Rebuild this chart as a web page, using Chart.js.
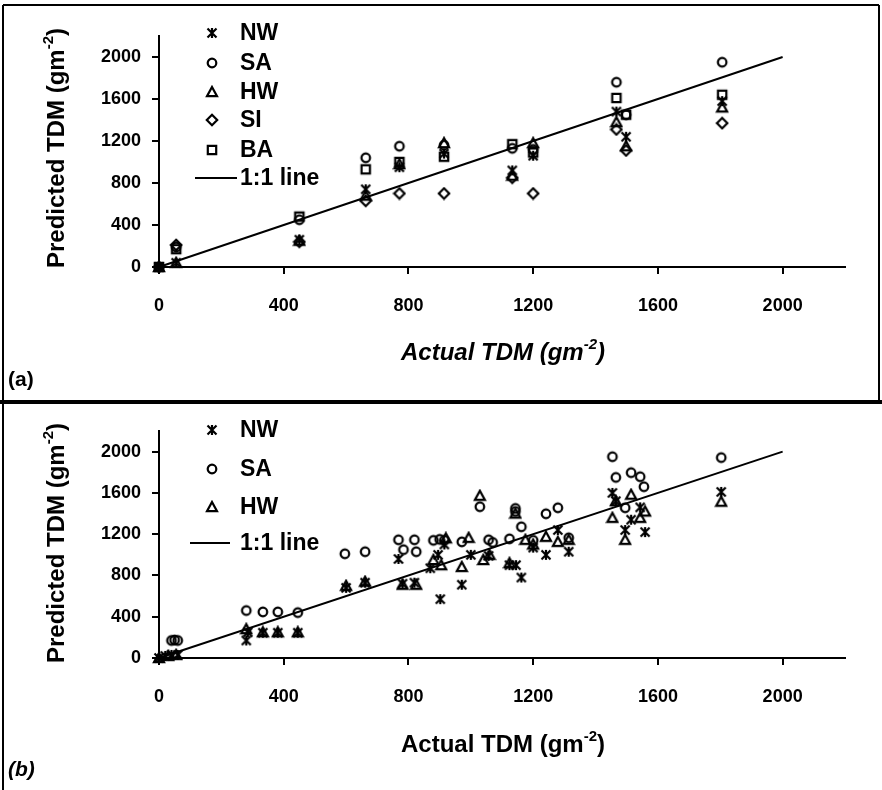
<!DOCTYPE html>
<html>
<head>
<meta charset="utf-8">
<script src="https://cdn.jsdelivr.net/npm/chart.js@4.4.1/dist/chart.umd.min.js"></script>
<style>
  html, body { margin: 0; padding: 0; background: #fff; }
  #wrap { position: relative; width: 882px; height: 790px; }
  .panel { position: absolute; left: 0; width: 882px; }
  #panelA { top: 0; height: 402px; }
  #panelB { top: 402px; height: 388px; }
</style>
</head>
<body>
<div id="wrap">
  <div class="panel" id="panelA"><canvas id="chartA" width="882" height="402"></canvas></div>
  <div class="panel" id="panelB"><canvas id="chartB" width="882" height="388"></canvas></div>
</div>
<script>
// ticks shared by both panels
var tickValues = [0, 400, 800, 1200, 1600, 2000];
var oneToOne = [0, 2000];

// panel (a): actual TDM and predictions of each model
var actualA = [0, 55, 450, 663, 771, 914, 1133, 1200, 1467, 1498, 1806];
var nwA = [0, 40, 260, 740, 950, 1080, 920, 1060, 1480, 1240, 1580];
var saA = [0, 190, 450, 1040, 1150, 1160, 1130, 1120, 1760, 1450, 1950];
var hwA = [0, 40, 250, 680, 980, 1180, 870, 1180, 1380, 1150, 1520];
var siA = [0, 210, 240, 630, 700, 700, 850, 700, 1310, 1110, 1370];
var baA = [0, 170, 480, 930, 1000, 1050, 1170, 1090, 1610, 1450, 1640];

// panel (b)
var nwBx = [0, 20, 40, 60, 280, 285, 333, 381, 445, 600, 661, 768, 781, 819, 870, 895, 902, 915, 971, 1000, 1057, 1124, 1145, 1162, 1200, 1241, 1279, 1314, 1454, 1465, 1495, 1514, 1543, 1559, 1803];
var nwBy = [0, 20, 30, 30, 170, 250, 245, 245, 245, 680, 730, 960, 720, 730, 870, 1000, 570, 1100, 710, 1000, 990, 900, 900, 780, 1070, 1000, 1240, 1030, 1600, 1520, 1240, 1340, 1460, 1220, 1610];
var saBx = [40, 50, 60, 280, 333, 381, 445, 596, 661, 768, 784, 819, 825, 880, 900, 915, 971, 1029, 1057, 1070, 1124, 1143, 1143, 1162, 1200, 1241, 1279, 1314, 1454, 1465, 1495, 1514, 1543, 1555, 1803];
var saBy = [170, 175, 170, 460, 447, 447, 440, 1010, 1030, 1146, 1050, 1146, 1030, 1140, 1150, 1140, 1126, 1466, 1146, 1120, 1155, 1450, 1420, 1272, 1140, 1398, 1456, 1165, 1951, 1750, 1456, 1796, 1757, 1660, 1942];
var hwBx = [0, 30, 55, 280, 333, 381, 445, 600, 661, 781, 825, 880, 905, 920, 971, 993, 1029, 1040, 1060, 1124, 1143, 1175, 1200, 1241, 1279, 1314, 1454, 1465, 1495, 1514, 1543, 1559, 1803];
var hwBy = [0, 20, 30, 280, 250, 250, 250, 700, 740, 710, 710, 950, 900, 1160, 883, 1165, 1573, 950, 1000, 920, 1400, 1146, 1100, 1175, 1126, 1146, 1359, 1520, 1146, 1583, 1359, 1420, 1515];

var FONT = 'Liberation Sans, Arial, sans-serif';

// marker images (open symbols like the excel ones)
function makeMarker(kind) {
    var c = document.createElement('canvas');
    c.width = 14; c.height = 14;
    var g = c.getContext('2d');
    g.strokeStyle = '#000';
    g.lineWidth = 2.2;
    g.beginPath();
    if (kind == 'star') {
        g.moveTo(2.5, 2.5); g.lineTo(11.5, 11.5);
        g.moveTo(11.5, 2.5); g.lineTo(2.5, 11.5);
        g.moveTo(7, 2); g.lineTo(7, 12);
    } else if (kind == 'circle') {
        g.arc(7, 7, 4.3, 0, Math.PI * 2);
    } else if (kind == 'triangle') {
        g.moveTo(7, 2); g.lineTo(12, 11.2); g.lineTo(2, 11.2); g.closePath();
    } else if (kind == 'diamond') {
        g.moveTo(7, 1.8); g.lineTo(12.2, 7); g.lineTo(7, 12.2); g.lineTo(1.8, 7); g.closePath();
    } else if (kind == 'square') {
        g.rect(2.8, 2.8, 8.4, 8.4);
    }
    g.stroke();
    return c;
}
var mk = {
    NW: makeMarker('star'),
    SA: makeMarker('circle'),
    HW: makeMarker('triangle'),
    SI: makeMarker('diamond'),
    BA: makeMarker('square')
};

function pairs(xs, ys) {
    return xs.map(function (x, i) { return {x: x, y: ys[i]}; });
}

function scatterSet(label, pts) {
    return {
        type: 'scatter', label: label, data: pts,
        pointStyle: mk[label], pointRadius: 5, clip: false
    };
}

function lineSet() {
    return {
        type: 'line', label: '1:1 line', data: pairs(oneToOne, oneToOne),
        borderColor: '#000', borderWidth: 2, pointRadius: 0, fill: false, clip: false
    };
}

function drawSupText(ctx, x, y, main, sup, tail, size, italic, rot) {
    var st = (italic ? 'italic ' : '') + 'bold ';
    var f1 = st + size + 'px ' + FONT, f2 = st + Math.round(size * 0.62) + 'px ' + FONT;
    ctx.save();
    ctx.translate(x, y);
    if (rot) ctx.rotate(-Math.PI / 2);
    ctx.fillStyle = '#000';
    ctx.textBaseline = 'middle';
    ctx.textAlign = 'left';
    ctx.font = f1; var w1 = ctx.measureText(main).width, w3 = ctx.measureText(tail).width;
    ctx.font = f2; var w2 = ctx.measureText(sup).width;
    var sx = -(w1 + w2 + w3) / 2;
    ctx.font = f1; ctx.fillText(main, sx, 0);
    ctx.font = f2; ctx.fillText(sup, sx + w1, -size * 0.36);
    ctx.font = f1; ctx.fillText(tail, sx + w1 + w2, 0);
    ctx.restore();
}

// legend, titles, panel letter and frame
function decoPlugin(cfg) {
    return {
        id: 'deco',
        afterDraw: function (chart) {
            var ctx = chart.ctx;
            ctx.save();
            ctx.strokeStyle = '#000';
            ctx.lineWidth = 2;
            ctx.beginPath();
            cfg.frame.forEach(function (s) { ctx.moveTo(s[0], s[1]); ctx.lineTo(s[2], s[3]); });
            ctx.stroke();

            // legend
            ctx.font = 'bold 23px ' + FONT;
            ctx.textBaseline = 'middle';
            ctx.fillStyle = '#000';
            cfg.legend.forEach(function (row, i) {
                var y = cfg.legendY[i];
                if (row == '1:1 line') {
                    ctx.beginPath();
                    ctx.moveTo(cfg.lineX[0], y); ctx.lineTo(cfg.lineX[1], y);
                    ctx.stroke();
                } else {
                    ctx.drawImage(mk[row], 212 - 7, y - 7);
                }
                ctx.fillText(row, 240, y + 1);
            });

            drawSupText(ctx, 57, cfg.yTitleY, 'Predicted TDM (gm', '-2', ')', 24, false, true);
            drawSupText(ctx, 503, cfg.xTitleY, 'Actual TDM (gm', '-2', ')', 24, cfg.italicX, false);

            ctx.font = (cfg.italicTag ? 'italic ' : '') + 'bold 21px ' + FONT;
            ctx.textAlign = 'left';
            ctx.fillText(cfg.tag, 8, cfg.tagY);
            ctx.restore();
        }
    };
}

function axisOpts(isX, height) {
    var o = {
        type: 'linear', min: 0, max: 2200,
        border: {display: true, color: '#000', width: 2},
        grid: {display: true, drawOnChartArea: false, drawTicks: true, tickLength: 7, color: '#000', lineWidth: 2},
        ticks: {
            color: '#000', font: {family: FONT, size: 18, weight: 'bold'},
            padding: isX ? 21 : 11, maxRotation: 0, includeBounds: false,
            callback: function (v) { return String(v); }
        },
        afterBuildTicks: function (s) { s.ticks = tickValues.map(function (v) { return {value: v}; }); }
    };
    if (isX) o.afterFit = function (s) { s.height = height; };
    else o.afterFit = function (s) { s.width = 159; };
    return o;
}

function makeChart(id, datasets, top, xHeight, cfg) {
    return new Chart(document.getElementById(id), {
        data: {datasets: datasets},
        options: {
            responsive: false,
            animation: false,
            layout: {padding: {left: 0, top: top, right: 37, bottom: 0}},
            plugins: {legend: {display: false}, tooltip: {enabled: false}},
            scales: {x: axisOpts(true, xHeight), y: axisOpts(false)}
        },
        plugins: [decoPlugin(cfg)]
    });
}

makeChart('chartA', [
    lineSet(),
    scatterSet('NW', pairs(actualA, nwA)),
    scatterSet('SA', pairs(actualA, saA)),
    scatterSet('HW', pairs(actualA, hwA)),
    scatterSet('SI', pairs(actualA, siA)),
    scatterSet('BA', pairs(actualA, baA))
], 36, 135, {
    frame: [[3, 5, 879, 5], [3, 5, 3, 402], [879, 5, 879, 402], [0, 401, 882, 401]],
    legend: ['NW', 'SA', 'HW', 'SI', 'BA', '1:1 line'],
    legendY: [33, 63, 92, 120, 150, 178],
    lineX: [195, 237],
    yTitleY: 148, xTitleY: 353, italicX: true,
    tag: '(a)', tagY: 380, italicTag: false
});

makeChart('chartB', [
    lineSet(),
    scatterSet('NW', pairs(nwBx, nwBy)),
    scatterSet('SA', pairs(saBx, saBy)),
    scatterSet('HW', pairs(hwBx, hwBy))
], 29, 132, {
    frame: [[0, 1, 882, 1], [3, 0, 3, 388]],
    legend: ['NW', 'SA', 'HW', '1:1 line'],
    legendY: [28, 67, 105, 141],
    lineX: [190, 230],
    yTitleY: 141, xTitleY: 343, italicX: false,
    tag: '(b)', tagY: 368, italicTag: true
});
</script>
</body>
</html>
